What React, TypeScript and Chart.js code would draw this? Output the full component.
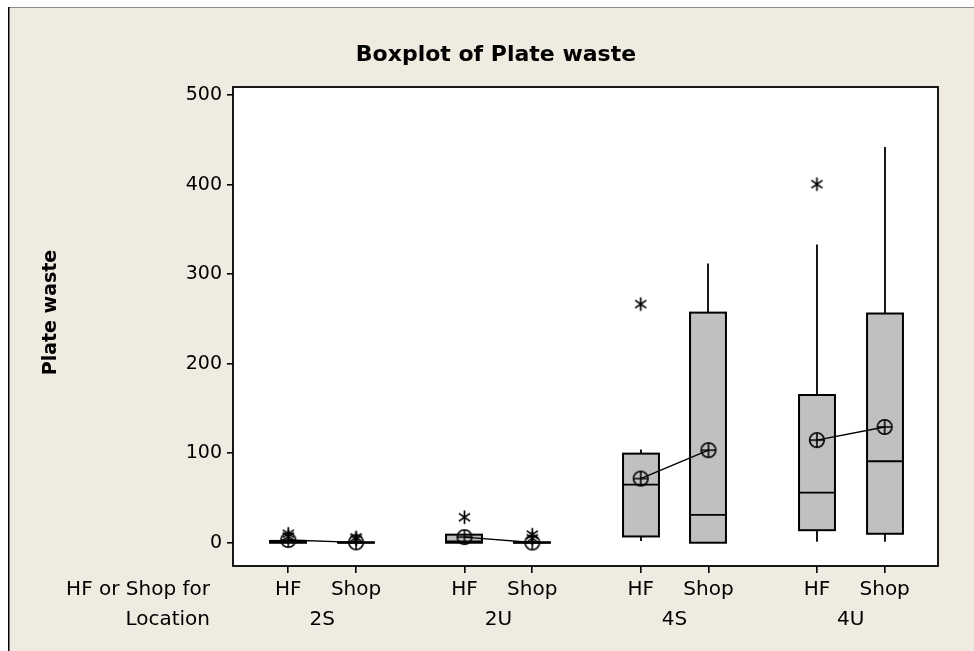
import React, { useEffect, useRef } from 'react';
import { Chart, registerables } from 'chart.js';
Chart.register(...registerables);

// ---- data ----
const locations = ['2S', '2U', '4S', '4U'];
const sources = ['HF', 'Shop'];
const yTicks = [0, 100, 200, 300, 400, 500];
// order: 2S HF, 2S Shop, 2U HF, 2U Shop, 4S HF, 4S Shop, 4U HF, 4U Shop
const q1Values = [0, 0, 0, 0, 7, 0, 14, 10];
const medianValues = [0.5, 0, 1.5, 0, 65, 31, 56, 91];
const q3Values = [2, 0.5, 9, 0.5, 99.5, 257, 165, 256];
const whiskerLow = [0, 0, 0, 0, 2, 0, 1, 1];
const whiskerHigh = [3, 1, 9, 1, 104, 312, 333, 442];
const meanValues = [3, 0.4, 6.3, 0.2, 71.6, 103.4, 114.6, 129.3];
const outlierValues = [[7, 10], [4, 6], [28.5], [5, 9], [266.5], [], [400.5], []];

const GROUP_STEP = 2.6;
const BOX_WIDTH = 0.53;
const FONT = "'DejaVu Sans', Verdana, sans-serif";

const xPos = (i: number) => Math.floor(i / 2) * GROUP_STEP + (i % 2);

function makeMeanSymbol() {
  const c = document.createElement('canvas');
  c.width = 18; c.height = 18;
  const g = c.getContext('2d')!;
  g.strokeStyle = '#000'; g.lineWidth = 1.6;
  g.beginPath(); g.arc(9, 9, 7.3, 0, Math.PI * 2); g.stroke();
  g.beginPath(); g.moveTo(1.5, 9); g.lineTo(16.5, 9); g.moveTo(9, 1.5); g.lineTo(9, 16.5); g.stroke();
  return c;
}

function makeAsterisk() {
  const c = document.createElement('canvas');
  c.width = 17; c.height = 17;
  const g = c.getContext('2d')!;
  g.strokeStyle = '#000'; g.lineWidth = 1.7;
  const r = 6.8;
  g.beginPath();
  for (const a of [90, 35, -35]) {
    const rad = (a * Math.PI) / 180;
    g.moveTo(8.5 - r * Math.cos(rad), 8.5 - r * Math.sin(rad));
    g.lineTo(8.5 + r * Math.cos(rad), 8.5 + r * Math.sin(rad));
  }
  g.stroke();
  return c;
}

const framePlugin = {
  id: 'minitabFrame',
  beforeDraw(chart: any) {
    const { ctx, width, height, chartArea: a } = chart;
    ctx.save();
    ctx.fillStyle = '#ffffff';
    ctx.fillRect(0, 0, width, height);
    ctx.fillStyle = '#EFEBE1';
    ctx.fillRect(8, 7, width - 8, height - 7);
    ctx.fillStyle = '#8c8c8c';
    ctx.fillRect(8, 7, width - 8, 1);
    ctx.fillStyle = '#000000';
    ctx.fillRect(8, 7, 1.5, height - 7);
    ctx.fillStyle = '#ffffff';
    ctx.fillRect(a.left, a.top, a.right - a.left, a.bottom - a.top);
    ctx.restore();
  },
  beforeDatasetsDraw(chart: any) {
    const { ctx } = chart;
    const xs = chart.scales.x;
    const ys = chart.scales.y;
    const half = (xs.getPixelForValue(BOX_WIDTH) - xs.getPixelForValue(0)) / 2;
    ctx.save();
    ctx.strokeStyle = '#000';
    for (let i = 0; i < q1Values.length; i++) {
      const cx = Math.round(xs.getPixelForValue(xPos(i)));
      const yq1 = ys.getPixelForValue(q1Values[i]);
      const yq3 = ys.getPixelForValue(q3Values[i]);
      const ymed = ys.getPixelForValue(medianValues[i]);
      const ylo = ys.getPixelForValue(whiskerLow[i]);
      const yhi = ys.getPixelForValue(whiskerHigh[i]);
      ctx.lineWidth = 1.8;
      ctx.beginPath();
      ctx.moveTo(cx, yq3); ctx.lineTo(cx, yhi);
      ctx.moveTo(cx, yq1); ctx.lineTo(cx, ylo);
      ctx.stroke();
      ctx.fillStyle = '#C0C0C0';
      ctx.lineWidth = 2;
      ctx.fillRect(cx - half, yq3, half * 2, yq1 - yq3);
      ctx.strokeRect(cx - half, yq3, half * 2, yq1 - yq3);
      ctx.lineWidth = 1.8;
      ctx.beginPath();
      ctx.moveTo(cx - half, ymed); ctx.lineTo(cx + half, ymed);
      ctx.stroke();
    }
    ctx.restore();
  },
  afterDraw(chart: any) {
    const { ctx, chartArea: a } = chart;
    const xs = chart.scales.x;
    ctx.save();
    ctx.strokeStyle = '#000';
    ctx.lineWidth = 1.8;
    ctx.strokeRect(a.left, a.top, a.right - a.left, a.bottom - a.top);

    ctx.fillStyle = '#000';
    // title
    ctx.font = `bold 22px ${FONT}`;
    ctx.textAlign = 'center';
    ctx.textBaseline = 'alphabetic';
    ctx.fillText('Boxplot of Plate waste', 496, 61);

    // y axis title
    ctx.save();
    ctx.translate(51, (a.top + a.bottom) / 2 - 14);
    ctx.rotate(-Math.PI / 2);
    ctx.font = `bold 19px ${FONT}`;
    ctx.textBaseline = 'middle';
    ctx.textAlign = 'center';
    ctx.fillText('Plate waste', 0, 0);
    ctx.restore();

    // x labels
    ctx.font = `20px ${FONT}`;
    ctx.textBaseline = 'middle';
    const row1 = a.bottom + 24;
    const row2 = a.bottom + 54;
    for (let i = 0; i < q1Values.length; i++) {
      ctx.textAlign = 'center';
      ctx.fillText(sources[i % 2], xs.getPixelForValue(xPos(i)), row1);
    }
    locations.forEach((loc, g) => {
      ctx.textAlign = 'center';
      ctx.fillText(loc, xs.getPixelForValue(g * GROUP_STEP + 0.5), row2);
    });
    ctx.textAlign = 'right';
    ctx.fillText('HF or Shop for', 210, row1);
    ctx.fillText('Location', 210, row2);
    ctx.restore();
  },
};

export default function App() {
  const ref = useRef<HTMLCanvasElement>(null);
  useEffect(() => {
    const meanImg = makeMeanSymbol();
    const starImg = makeAsterisk();
    const meanSets = locations.map((loc, g) => ({
      type: 'scatter' as const,
      label: `Mean ${loc}`,
      data: [0, 1].map((s) => ({ x: xPos(g * 2 + s), y: meanValues[g * 2 + s] })),
      showLine: true,
      borderColor: '#000',
      borderWidth: 1.4,
      pointStyle: meanImg as any,
      pointRadius: 7,
      pointHoverRadius: 7,
    }));
    const outlierData: { x: number; y: number }[] = [];
    outlierValues.forEach((arr, i) => arr.forEach((v) => outlierData.push({ x: xPos(i), y: v })));
    const chart = new Chart(ref.current!, {
      type: 'scatter',
      data: {
        datasets: [
          ...meanSets,
          {
            type: 'scatter',
            label: 'Outliers',
            data: outlierData,
            pointStyle: starImg as any,
            pointRadius: 6,
            pointHoverRadius: 6,
          },
        ],
      },
      options: {
        responsive: false,
        animation: false,
        events: [],
        layout: { padding: { left: 0, right: 36, top: 87, bottom: 0 } },
        plugins: { legend: { display: false }, tooltip: { enabled: false }, title: { display: false } },
        scales: {
          x: {
            type: 'linear',
            min: -0.816,
            max: 9.587,
            afterBuildTicks: (s: any) => {
              s.ticks = q1Values.map((_, i) => ({ value: xPos(i) }));
            },
            afterFit: (s: any) => { s.height = 85; },
            ticks: { display: false },
            grid: { display: true, drawOnChartArea: false, drawTicks: true, tickLength: 7, color: '#000', lineWidth: 1.6 },
            border: { display: false },
          },
          y: {
            type: 'linear',
            min: -26,
            max: 509,
            afterBuildTicks: (s: any) => {
              s.ticks = yTicks.map((v) => ({ value: v }));
            },
            afterFit: (s: any) => { s.width = 233; },
            ticks: { color: '#000', font: { family: FONT, size: 19 }, padding: 5 },
            grid: { display: true, drawOnChartArea: false, drawTicks: true, tickLength: 6, color: '#000', lineWidth: 1.6 },
            border: { display: false },
          },
        },
      },
      plugins: [framePlugin],
    });
    return () => chart.destroy();
  }, []);
  return (
    <div style={{ position: 'fixed', left: 0, top: 0, width: 974, height: 651 }}>
      <canvas ref={ref} width={974} height={651} style={{ display: 'block' }} />
    </div>
  );
}
